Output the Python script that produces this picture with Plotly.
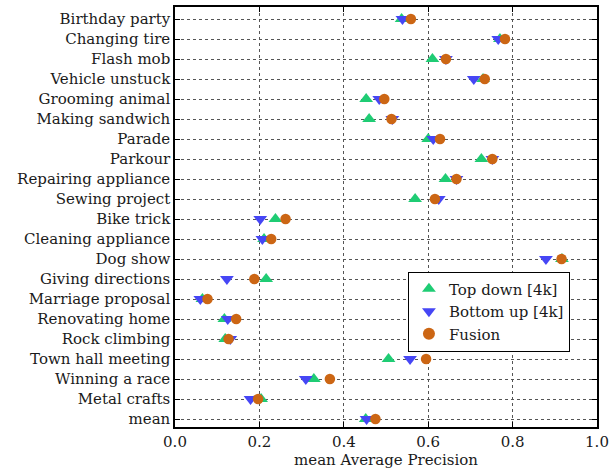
import plotly.graph_objects as go

categories = ["Birthday party", "Changing tire", "Flash mob", "Vehicle unstuck",
              "Grooming animal", "Making sandwich", "Parade", "Parkour",
              "Repairing appliance", "Sewing project", "Bike trick",
              "Cleaning appliance", "Dog show", "Giving directions",
              "Marriage proposal", "Renovating home", "Rock climbing",
              "Town hall meeting", "Winning a race", "Metal crafts", "mean"]

top_down = [0.537, 0.770, 0.610, 0.730, 0.453, 0.460, 0.600, 0.726, 0.641, 0.569,
            0.238, 0.211, 0.917, 0.216, 0.065, 0.117, 0.119, 0.506, 0.329, 0.204, 0.452]
bottom_up = [0.539, 0.766, 0.642, 0.708, 0.484, 0.515, 0.612, 0.752, 0.667, 0.625,
             0.202, 0.207, 0.879, 0.123, 0.060, 0.125, 0.131, 0.557, 0.310, 0.179, 0.454]
fusion = [0.559, 0.782, 0.642, 0.734, 0.496, 0.513, 0.628, 0.752, 0.667, 0.616,
          0.262, 0.228, 0.916, 0.188, 0.077, 0.145, 0.127, 0.595, 0.367, 0.197, 0.475]

x_ticks = [0.0, 0.2, 0.4, 0.6, 0.8, 1.0]

FONT = "DejaVu Serif"
FS = 15

fig = go.Figure()
fig.add_trace(go.Scatter(x=top_down, y=categories, mode="markers", name="Top down [4k]",
                         marker=dict(symbol="triangle-up", size=12, color="#1fcc74",
                                     line=dict(width=0))))
fig.add_trace(go.Scatter(x=bottom_up, y=categories, mode="markers", name="Bottom up [4k]",
                         marker=dict(symbol="triangle-down", size=12, color="#4646f5",
                                     line=dict(width=0))))
fig.add_trace(go.Scatter(x=fusion, y=categories, mode="markers", name="Fusion",
                         marker=dict(symbol="circle", size=10.5, color="#cc6614",
                                     line=dict(width=0))))

fig.update_layout(
    width=611, height=470,
    margin=dict(l=175, r=14, t=7, b=43),
    plot_bgcolor="white", paper_bgcolor="white",
    font=dict(family=FONT, size=FS, color="#1a1a1a"),
    xaxis=dict(range=[0, 1.0], tickvals=x_ticks, ticktext=[f"{v:.1f}" for v in x_ticks],
               showgrid=True, gridcolor="#555", griddash="dot", gridwidth=1,
               showline=True, linecolor="black", linewidth=1.5, mirror="ticks",
               ticks="inside", ticklen=5, tickcolor="black", automargin=False,
               title=dict(text="mean Average Precision", standoff=2,
                          font=dict(family=FONT, size=FS)),
               zeroline=False, tickfont=dict(family=FONT, size=FS)),
    yaxis=dict(type="category", categoryorder="array", categoryarray=categories,
               range=[20.4, -0.6], automargin=False,
               showgrid=True, gridcolor="#555", griddash="dot", gridwidth=1,
               showline=True, linecolor="black", linewidth=1.5, mirror="ticks",
               ticks="inside", ticklen=5, tickcolor="black",
               tickfont=dict(family=FONT, size=FS), zeroline=False),
    legend=dict(x=0.552, y=0.37, xanchor="left", yanchor="top",
                bgcolor="white", bordercolor="black", borderwidth=1,
                font=dict(family=FONT, size=FS), itemsizing="constant",
                tracegroupgap=0),
    showlegend=True,
)

fig.write_html("out.html")
